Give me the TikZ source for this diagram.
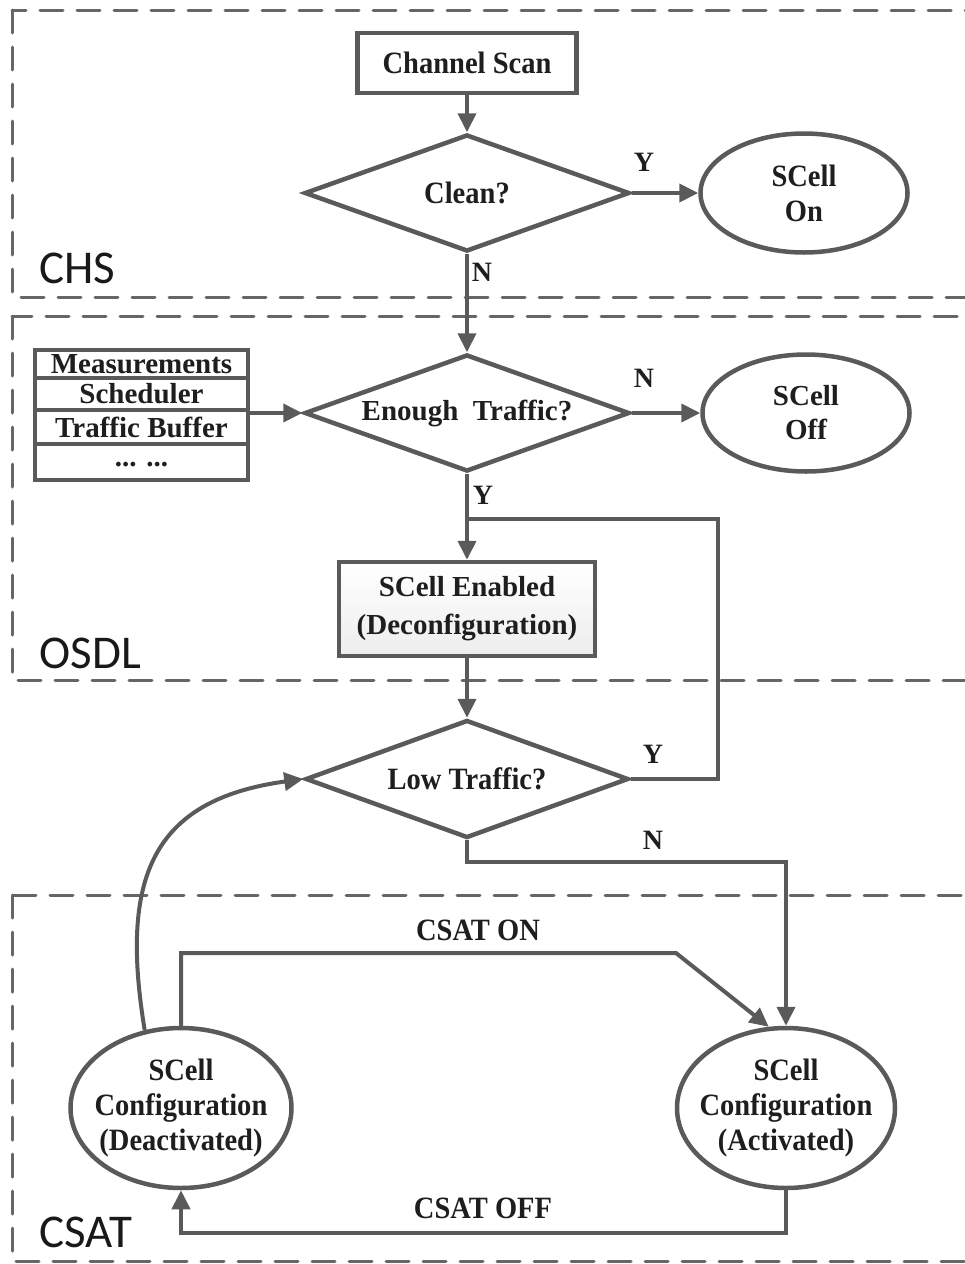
\documentclass[tikz,border=0pt]{standalone}
\usepackage{fontspec}
\setmainfont{Liberation Serif}
\newfontfamily\narrowserif[FakeStretch=0.92]{Liberation Serif}
\newfontfamily\zonefont{Carlito}
\usetikzlibrary{shapes.geometric,arrows.meta,fit}
\definecolor{linegray}{HTML}{5A5A5A}
\definecolor{dashgray}{HTML}{666666}
\definecolor{textdark}{HTML}{1E1E1E}

\begin{document}
\begin{tikzpicture}[x=1pt,y=-1pt,
  every node/.style={text=textdark, font=\fontsize{29}{36}\selectfont\bfseries},
  narrowtext/.style={font=\narrowserif\fontsize{31}{35}\selectfont\bfseries},
  shapeline/.style={draw=linegray, line width=4.5pt, fill=white},
  procbox/.style={shapeline, rectangle, inner sep=0pt, align=center},
  decision/.style={shapeline, diamond, aspect=2.78, inner sep=0pt,
                   minimum width=325pt, minimum height=117pt},
  state/.style={shapeline, ellipse, inner sep=0pt},
  rowbox/.style={draw=linegray, line width=3.5pt, fill=white, rectangle,
                 minimum width=213pt, inner sep=0pt},
  flow/.style={draw=linegray, line width=4pt, -{Triangle[length=19pt,width=18pt]}},
  link/.style={draw=linegray, line width=4pt},
  zone/.style={draw=dashgray, line width=3pt, dash pattern=on 23pt off 14pt, line cap=round},
  zonelabel/.style={anchor=base west, font=\zonefont\fontsize{47}{50}\selectfont, text=black!90},
  tag/.style={font=\fontsize{28}{30}\selectfont\bfseries}
]
\useasboundingbox (0,0) rectangle (965,1264);
\clip (0,0) rectangle (965,1264);

% dashed zones
\draw[zone] (12,10) rectangle (990,297);
\draw[zone] (12,316) rectangle (990,680);
\draw[zone] (12,895) rectangle (990,1261);
\node[zonelabel] (chs) at (36,283) {CHS};
\node[zonelabel] (osdl) at (36,668) {OSDL};
\node[zonelabel] (csat) at (36,1247) {CSAT};

% CHS
\node[procbox, narrowtext, minimum width=219pt, minimum height=60pt] (scan) at (467,63) {Channel Scan};
\node[decision, narrowtext] (clean) at (467,193) {Clean?};
\node[state, minimum width=207pt, minimum height=119pt,
      label={[align=center, narrowtext]center:SCell\\On}] (on) at (804,193) {};

% OSDL
\node[decision] (enough) at (467,413) {Enough\ \ Traffic?};
\node[state, minimum width=207pt, minimum height=117pt,
      label={[align=center, font=\fontsize{29}{34}\selectfont\bfseries]center:SCell\\Off}] (off) at (806,413) {};

\node[rowbox, minimum height=28pt] (m1) at (141.5,364) {Measurements};
\node[rowbox, minimum height=32pt] (m2) at (141.5,394) {Scheduler};
\node[rowbox, minimum height=34pt] (m3) at (141.5,427) {Traffic Buffer};
\node[rowbox, minimum height=36pt] (m4) at (141.5,462) {\raisebox{-9pt}{... ...}};
\node[fit=(m1)(m4), inner sep=0pt] (stack) {};

\node[procbox, minimum width=256pt, minimum height=94pt,
      top color=white, bottom color=gray!14,
      font=\fontsize{29}{38}\selectfont\bfseries] (enabled) at (467,609)
      {SCell Enabled\\(Deconfiguration)};

% CSAT
\node[decision, narrowtext, minimum width=323pt, minimum height=118pt] (low) at (467,779) {Low Traffic?};
\node[state, minimum width=221pt, minimum height=160pt,
      label={[align=center, narrowtext]center:SCell\\Configuration\\(Deactivated)}] (deact) at (181,1108) {};
\node[state, minimum width=218pt, minimum height=160pt,
      label={[align=center, narrowtext]center:SCell\\Configuration\\(Activated)}] (act) at (786,1108) {};

% connectors
\draw[flow] (scan) -- (clean);
\draw[flow] (clean) -- (on);
\draw[flow] (clean) -- (enough);
\draw[flow] (stack.east |- enough.west) -- (enough.west);
\draw[flow] (enough) -- (off);
\draw[flow] (enough) -- (enabled);
\coordinate (loopR) at (718,519);
\draw[link] (low.east) -| (loopR) -- (loopR -| enabled.north);
\draw[flow] (enabled) -- (low);
\coordinate (nbend) at (786,862);
\draw[flow] (low.south) |- (nbend) -- (act.north);
\draw[flow] (deact.115) .. controls (120,880) and (150,800) .. (low.west);
\coordinate (onbend) at (676,953);
\draw[flow] (deact.north) |- (onbend) -- (act.102);
\coordinate (offbend) at (480,1233);
\draw[flow] (act.south) |- (offbend) -| (deact.south);

% branch labels
\node[tag] (yclean) at (644,162) {Y};
\node[tag] (nclean) at (482,272) {N};
\node[tag] (nenough) at (644,378) {N};
\node[tag] (yenough) at (483,495) {Y};
\node[tag] (ylow) at (653,754) {Y};
\node[tag] (nlow) at (653,840) {N};
\node[tag, narrowtext] (onlbl) at (478,930) {CSAT ON};
\node[tag, narrowtext] (offlbl) at (483,1208) {CSAT OFF};
\end{tikzpicture}
\end{document}
